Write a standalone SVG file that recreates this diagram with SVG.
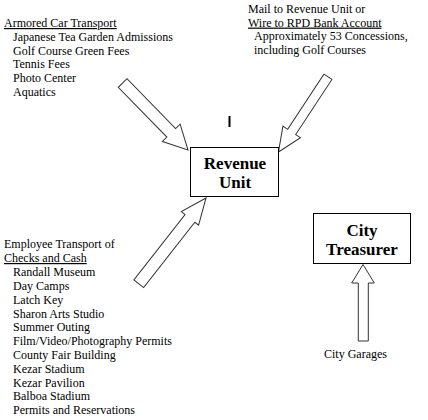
<svg xmlns="http://www.w3.org/2000/svg" width="428" height="420" viewBox="0 0 428 420">
<style>
.t{font-family:"Liberation Serif","Times New Roman",serif;font-size:12px;fill:#000}
.u{text-decoration:underline}
.b{font-family:"Liberation Serif","Times New Roman",serif;font-size:17px;font-weight:bold;fill:#000;text-anchor:middle}
.box{fill:#fff;stroke:#000;stroke-width:1}
.arr{fill:#fff;stroke:#333;stroke-width:1;stroke-linejoin:miter}
</style>
<rect width="428" height="420" fill="#fff"/>
<g id="connectors">
<polygon class="arr" transform="translate(188,150) rotate(45.7)" points="0,0 -24,-12.4 -24,-6.1 -93.6,-6.1 -93.6,6.1 -24,6.1 -24,12.4"/>
<polygon class="arr" transform="translate(278.5,152) rotate(123.3)" points="0,0 -24,-10.5 -24,-4.8 -90,-4.8 -90,4.8 -24,4.8 -24,10.5"/>
<polygon class="arr" transform="translate(206,198) rotate(-51.9)" points="0,0 -26,-11 -26,-6.2 -109,-6.2 -109,6.2 -26,6.2 -26,11"/>
<polygon class="arr" points="363,264.5 351.7,283 358.3,283 358.3,341 368.3,341 368.3,283 374.3,283"/>
</g>
<g id="revenue-unit">
<rect class="box" x="190.5" y="147.5" width="88" height="49"/>
<text class="b" x="235" y="168.5">Revenue</text>
<text class="b" x="235" y="187.5">Unit</text>
</g>
<g id="city-treasurer">
<rect class="box" x="313.5" y="213.5" width="97" height="50"/>
<text class="b" x="362" y="236">City</text>
<text class="b" x="362" y="255">Treasurer</text>
</g>
<rect x="228.5" y="116" width="2" height="11" fill="#000"/>
<g id="armored-car">
<text class="t u" x="4" y="27">Armored Car Transport</text>
<text class="t" x="13" y="40.8">Japanese Tea Garden Admissions</text>
<text class="t" x="13" y="54.6">Golf Course Green Fees</text>
<text class="t" x="13" y="68.4">Tennis Fees</text>
<text class="t" x="13" y="82.2">Photo Center</text>
<text class="t" x="13" y="96">Aquatics</text>
</g>
<g id="mail-wire">
<text class="t" x="248" y="12.7">Mail to Revenue Unit or</text>
<text class="t u" x="248" y="26.6">Wire to RPD Bank Account</text>
<text class="t" x="254" y="40.4">Approximately 53 Concessions,</text>
<text class="t" x="254" y="54.2">including Golf Courses</text>
</g>
<g id="employee-transport">
<text class="t" x="4" y="248">Employee Transport of</text>
<text class="t u" x="4" y="262">Checks and Cash</text>
<text class="t" x="13" y="276">Randall Museum</text>
<text class="t" x="13" y="290">Day Camps</text>
<text class="t" x="13" y="303.8">Latch Key</text>
<text class="t" x="13" y="317.6">Sharon Arts Studio</text>
<text class="t" x="13" y="331.4">Summer Outing</text>
<text class="t" x="13" y="345.2">Film/Video/Photography Permits</text>
<text class="t" x="13" y="359">County Fair Building</text>
<text class="t" x="13" y="372.8">Kezar Stadium</text>
<text class="t" x="13" y="386.6">Kezar Pavilion</text>
<text class="t" x="13" y="400.4">Balboa Stadium</text>
<text class="t" x="13" y="414.2">Permits and Reservations</text>
</g>
<g id="city-garages">
<text class="t" x="324" y="358">City Garages</text>
</g>
</svg>
